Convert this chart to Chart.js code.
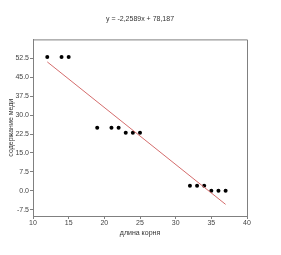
<!DOCTYPE html>
<html>
<head>
<meta charset="utf-8">
<script src="https://cdn.jsdelivr.net/npm/chart.js@4/dist/chart.umd.min.js"></script>
<style>
html,body{margin:0;padding:0;background:#fff;}
#wrap{width:281px;height:255px;position:relative;}
</style>
</head>
<body>
<div id="wrap"><canvas id="c" width="281" height="255"></canvas></div>
<script>
// Data
const rootLength = [12, 14, 15, 19, 21, 22, 23, 24, 25, 32, 33, 34, 35, 36, 37];
const copperContent = [53, 53, 53, 25, 25, 25, 23, 23, 23, 2, 2, 2, 0, 0, 0];
const fitSlope = -2.2589;
const fitIntercept = 78.187;
const fitRange = [12, 37];
const xTicks = [10, 15, 20, 25, 30, 35, 40];
const yTicks = [-7.5, 0, 7.5, 15, 22.5, 30, 37.5, 45, 52.5];
const titleText = 'y = -2,2589x + 78,187';
const xTitle = 'длина корня';
const yTitle = 'содержание меди';

const points = rootLength.map((x, i) => ({x: x, y: copperContent[i]}));
const fitLine = fitRange.map(x => ({x: x, y: fitSlope * x + fitIntercept}));

const FONT = 'Liberation Sans, Arial, sans-serif';
const boxPlugin = {
  id: 'box',
  afterDraw(chart) {
    const {ctx, chartArea: a} = chart;
    ctx.save();
    ctx.strokeStyle = '#808080';
    ctx.lineWidth = 1;
    ctx.beginPath();
    ctx.moveTo(a.left, a.top + 0.5);
    ctx.lineTo(a.right + 0.5, a.top + 0.5);
    ctx.lineTo(a.right + 0.5, a.bottom);
    ctx.stroke();
    ctx.restore();
  }
};

new Chart(document.getElementById('c'), {
  type: 'scatter',
  data: {
    datasets: [
      {
        label: 'fit',
        type: 'line',
        data: fitLine,
        borderColor: '#d46c6c',
        borderWidth: 1,
        pointRadius: 0,
        fill: false,
        tension: 0
      },
      {
        label: 'data',
        data: points,
        backgroundColor: '#000',
        borderColor: '#000',
        pointRadius: 2,
        pointBorderWidth: 0
      }
    ]
  },
  options: {
    responsive: false,
    animation: false,
    devicePixelRatio: 1,
    layout: {padding: {left: 0, right: 34, top: 0, bottom: 0}},
    plugins: {
      legend: {display: false},
      tooltip: {enabled: false},
      title: {
        display: true,
        fullSize: false,
        text: titleText,
        color: '#333',
        font: {family: FONT, size: 7, weight: 'normal'},
        padding: {top: 15, bottom: 16}
      }
    },
    scales: {
      x: {
        type: 'linear',
        min: 10, max: 40,
        afterBuildTicks: s => { s.ticks = xTicks.map(v => ({value: v})); },
        afterFit: s => { s.height = 39; },
        grid: {drawOnChartArea: false, drawTicks: true, tickLength: 3, color: '#808080'},
        border: {color: '#808080', width: 1},
        ticks: {color: '#444', font: {family: FONT, size: 7}, padding: 0, maxRotation: 0,
                callback: v => String(v)},
        title: {display: true, text: xTitle, color: '#333', font: {family: FONT, size: 7},
                padding: {top: 0, bottom: 18}}
      },
      y: {
        type: 'linear',
        min: -10, max: 60,
        afterBuildTicks: s => { s.ticks = yTicks.map(v => ({value: v})); },
        afterFit: s => { s.width = 33; },
        grid: {drawOnChartArea: false, drawTicks: true, tickLength: 3, color: '#808080'},
        border: {color: '#808080', width: 1},
        ticks: {color: '#444', font: {family: FONT, size: 7}, padding: 1,
                callback: v => v.toFixed(1)},
        title: {display: true, text: yTitle, color: '#333', font: {family: FONT, size: 7},
                padding: {top: 7, bottom: 0}}
      }
    }
  },
  plugins: [boxPlugin]
});
</script>
</body>
</html>
